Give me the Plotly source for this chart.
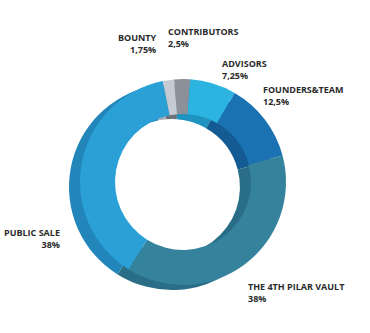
import plotly.graph_objects as go

# Token allocation (percent), in clockwise order from the top
labels = ["CONTRIBUTORS", "ADVISORS", "FOUNDERS&TEAM", "THE 4TH PILAR VAULT", "PUBLIC SALE", "BOUNTY"]
values = [2.5, 7.25, 12.5, 38, 38, 1.75]
top_colors = ["#8b9099", "#2cb3e0", "#1a72b2", "#34829c", "#2aa0d6", "#c6cbd3"]
side_colors = ["#6e737c", "#1f93bf", "#135b92", "#2a6d87", "#2286ba", "#a6abb4"]

W, H = 370, 333


def dom(cx, cy, d):
    """Square domain (paper fractions) for a pie of diameter d centred at pixel (cx, cy)."""
    return dict(x=[(cx - d / 2) / W, (cx + d / 2) / W],
                y=[(H - cy - d / 2) / H, (H - cy + d / 2) / H])


D = 206
common = dict(labels=labels, values=values, hole=0.66, sort=False,
              direction="clockwise", rotation=-5, textinfo="none",
              hoverinfo="label+percent", showlegend=False)

fig = go.Figure()
# darker copy underneath, shifted, gives the ring its visible thickness
fig.add_trace(go.Pie(**common, marker=dict(colors=side_colors, line=dict(width=0)),
                     domain=dom(172, 187, D)))
fig.add_trace(go.Pie(**common, marker=dict(colors=top_colors, line=dict(width=0)),
                     domain=dom(183, 182, D)))


def fmt(v):
    s = ("%g" % v).replace(".", ",")
    return s + "%"


# label anchor positions in pixels: (x, y of first line, x-anchor)
label_pos = {
    "BOUNTY": (159, 29, "right"),
    "CONTRIBUTORS": (166, 23, "left"),
    "ADVISORS": (220, 55, "left"),
    "FOUNDERS&TEAM": (261, 81, "left"),
    "PUBLIC SALE": (62, 224, "right"),
    "THE 4TH PILAR VAULT": (246, 278, "left"),
}

annotations = []
for lab, val in zip(labels, values):
    x, y, anchor = label_pos[lab]
    annotations.append(dict(
        x=x / W, y=1 - y / H, xref="paper", yref="paper",
        xanchor=anchor, yanchor="top", align=anchor, showarrow=False,
        text="<b>%s<br>%s</b>" % (lab, fmt(val)),
        font=dict(family="Open Sans", size=9, color="#2b2b2b"),
    ))

fig.update_layout(
    width=W, height=H, margin=dict(l=0, r=0, t=0, b=0),
    paper_bgcolor="white", plot_bgcolor="white",
    annotations=annotations,
)

fig.write_html("out.html")
